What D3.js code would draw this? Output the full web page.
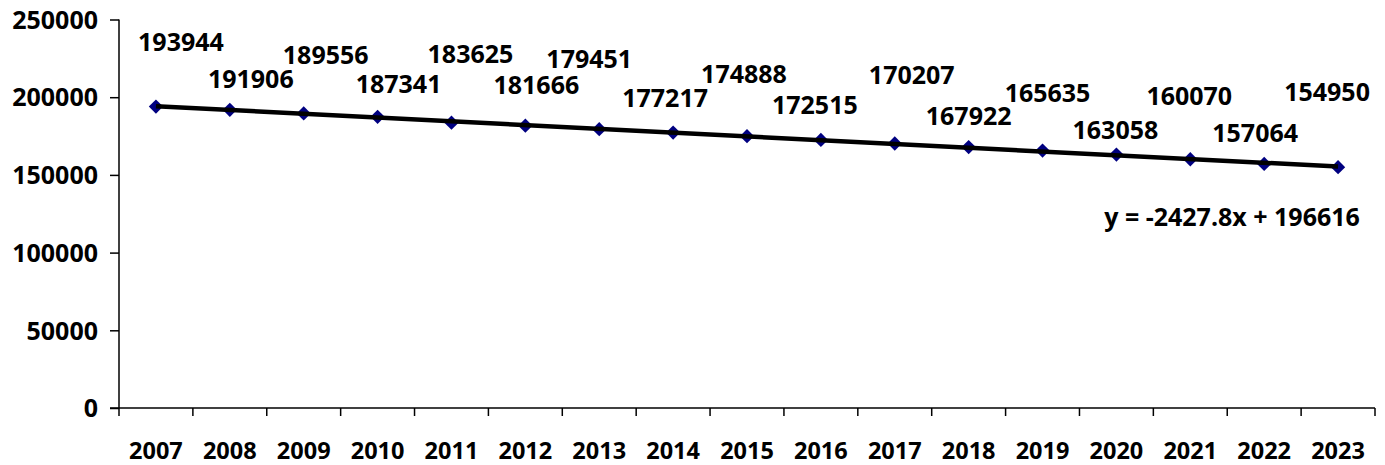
<!DOCTYPE html>
<html><head><meta charset="utf-8">
<script src="https://cdn.jsdelivr.net/npm/d3@7"></script>
<style>body{margin:0;background:#fff}svg{display:block}text{font-family:"Open Sans",sans-serif;font-weight:bold;fill:#000}</style>
</head><body><svg id="c" width="1385" height="465"></svg>
<script>
const years = ["2007","2008","2009","2010","2011","2012","2013","2014","2015","2016","2017","2018","2019","2020","2021","2022","2023"];
const values = [193944,191906,189556,187341,183625,181666,179451,177217,174888,172515,170207,167922,165635,163058,160070,157064,154950];
const yTicks = [0,50000,100000,150000,200000,250000];
const trendSlope = -2427.8, trendIntercept = 196616;
const trendLabel = "y = -2427.8x + 196616";
// label nudges (layout only): [dx, dy] from each point
const labelNudge = [[25,-64],[21,-31],[22,-58],[21,-33],[19,-68],[11,-40],[-10,-70],[-8,-34],[-3,-62],[-6,-35],[17,-68],[0,-31],[5,-57],[-1,-24],[-1,-63],[-9,-31],[-11,-75]];

const svg = d3.select("#c");
const pL = 119, pR = 1375, pT = 19.5, pB = 408;
const x = d3.scaleBand().domain(years).range([pL, pR]).padding(0);
const y = d3.scaleLinear().domain([0, 250000]).range([pB, pT]);
const fs = 25;

// y axis
const yAx = svg.append("g").attr("transform", `translate(${pL},0)`)
  .call(d3.axisLeft(y).tickValues(yTicks).tickSize(9).tickPadding(12).tickFormat(d3.format("d")));
yAx.select(".domain").attr("stroke","#000").attr("stroke-width",1.5).attr("d",`M0,${pT}V${pB}`);
yAx.selectAll(".tick line").attr("stroke","#000").attr("stroke-width",1.5);
yAx.selectAll(".tick text").attr("font-size",fs).attr("font-family","Open Sans").attr("font-weight","bold").attr("fill","#000").attr("dy","0.35em");

// x axis
const xAx = svg.append("g").attr("transform", `translate(0,${pB})`)
  .call(d3.axisBottom(x).tickValues([]).tickSizeOuter(0));
xAx.select(".domain").attr("stroke","#000").attr("stroke-width",1.5).attr("d",`M${pL-9},0H${pR}`);
const bounds = years.map(yr => x(yr)).concat([pR]);
xAx.selectAll(".tk").data(bounds).join("line").attr("class","tk")
  .attr("x1",d=>d).attr("x2",d=>d).attr("y1",0).attr("y2",8).attr("stroke","#000").attr("stroke-width",1.5);
xAx.selectAll(".yl").data(years).join("text").attr("class","yl")
  .attr("x",d=>x(d)+x.bandwidth()/2).attr("y",51)
  .attr("text-anchor","middle").attr("font-size",23.5).text(d=>d);

const cx = (i) => x(years[i]) + x.bandwidth()/2;

// markers
const sym = d3.symbol().type(d3.symbolDiamond2).size(130);
svg.selectAll(".pt").data(values).join("path").attr("class","pt")
  .attr("transform",(d,i)=>`translate(${cx(i)},${y(d)})`)
  .attr("d",sym).attr("fill","#000080");

// trendline
const t0 = trendSlope*1 + trendIntercept, t1 = trendSlope*years.length + trendIntercept;
svg.append("line").attr("x1",cx(0)).attr("y1",y(t0)).attr("x2",cx(years.length-1)).attr("y2",y(t1))
  .attr("stroke","#000").attr("stroke-width",4.5);

// data labels
svg.selectAll(".lb").data(values).join("text").attr("class","lb")
  .attr("x",(d,i)=>cx(i)+labelNudge[i][0]).attr("y",(d,i)=>y(d)+labelNudge[i][1]).attr("dy","0.35em")
  .attr("text-anchor","middle").attr("font-size",fs).text(d=>d);

// equation
svg.append("text").attr("x",1232).attr("y",217).attr("dy","0.35em").attr("text-anchor","middle")
  .attr("font-size",fs).text(trendLabel);
</script></body></html>
